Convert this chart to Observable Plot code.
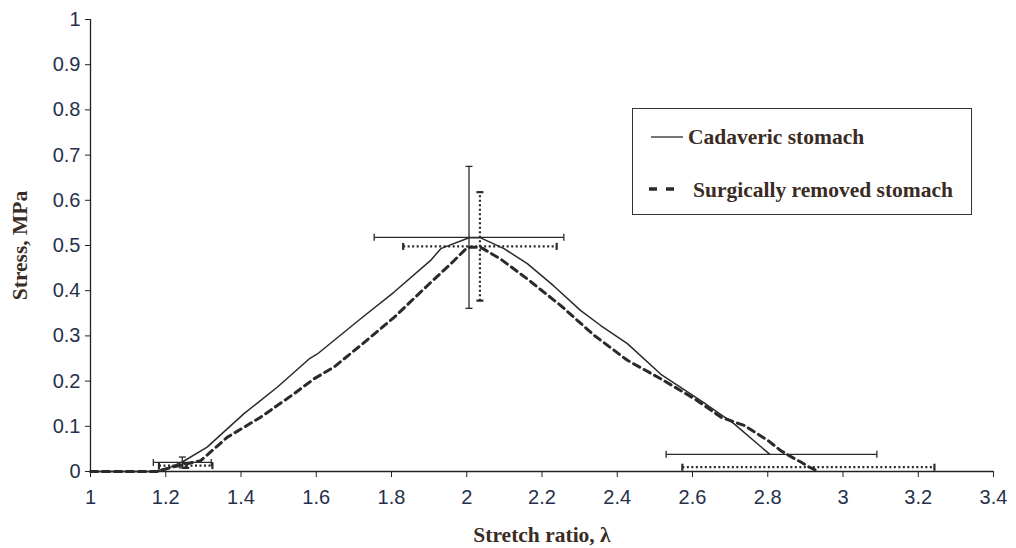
<!DOCTYPE html>
<html>
<head>
<meta charset="utf-8">
<script src="https://cdn.jsdelivr.net/npm/d3@7"></script>
<script src="https://cdn.jsdelivr.net/npm/@observablehq/plot@0.6"></script>
<style>
  body { margin: 0; background: #fff; }
  #wrap { position: relative; width: 1016px; height: 548px; }
  #legend { position: absolute; left: 632px; top: 108px; width: 338px; height: 105px; border: 1.3px solid #333; background: #fff; }
  .lt { position: absolute; font-family: "Liberation Serif", "DejaVu Serif", serif; font-weight: bold; font-size: 21.5px; color: #3a2c24; white-space: nowrap; line-height: 1; }
  g[aria-label="x-axis tick label"] text, g[aria-label="y-axis tick label"] text { font-size: 20px; }
</style>
</head>
<body>
<div id="wrap"></div>
<script>
// Tick values
const xTicks = [1, 1.2, 1.4, 1.6, 1.8, 2, 2.2, 2.4, 2.6, 2.8, 3, 3.2, 3.4];
const yTicks = [0, 0.1, 0.2, 0.3, 0.4, 0.5, 0.6, 0.7, 0.8, 0.9, 1];

// Cadaveric stomach (solid)
const cadX = [1.0, 1.17, 1.213, 1.244, 1.31, 1.408, 1.497, 1.581, 1.603, 1.718, 1.807, 1.904, 1.931, 2.006, 2.037, 2.099, 2.161, 2.232, 2.303, 2.356, 2.427, 2.516, 2.622, 2.71, 2.804];
const cadY = [0.0, 0.0, 0.01, 0.021, 0.054, 0.128, 0.187, 0.249, 0.26, 0.338, 0.397, 0.467, 0.493, 0.517, 0.517, 0.493, 0.46, 0.41, 0.356, 0.323, 0.283, 0.215, 0.157, 0.106, 0.039];

// Surgically removed stomach (dashed)
const surX = [1.0, 1.177, 1.22, 1.293, 1.364, 1.452, 1.541, 1.594, 1.647, 1.718, 1.807, 1.895, 1.957, 2.002, 2.037, 2.09, 2.161, 2.25, 2.339, 2.427, 2.516, 2.605, 2.676, 2.737, 2.8, 2.835, 2.857, 2.888, 2.91, 2.932];
const surY = [0.0, 0.0, 0.01, 0.024, 0.076, 0.12, 0.172, 0.205, 0.231, 0.279, 0.341, 0.411, 0.459, 0.496, 0.496, 0.47, 0.426, 0.367, 0.301, 0.246, 0.205, 0.161, 0.12, 0.102, 0.069, 0.046, 0.035, 0.021, 0.01, 0.001];

// Error bars: cadaveric
const cadErrX = [1.244, 2.006, 2.81];
const cadErrY = [0.02, 0.518, 0.038];
const cadErrDx = [0.077, 0.252, 0.28];
const cadErrDy = [0.012, 0.157, 0];

// Error bars: surgically removed
const surErrX = [1.253, 2.035, 2.908];
const surErrY = [0.013, 0.498, 0.0095];
const surErrDx = [0.071, 0.204, 0.335];
const surErrDy = [0.005, 0.12, 0];

const cad = cadX.map((x, i) => ({x, y: cadY[i]}));
const sur = surX.map((x, i) => ({x, y: surY[i]}));
const mkErr = (X, Y, DX, DY) => X.map((x, i) => ({x, y: Y[i], dx: DX[i], dy: DY[i]}));
const cadErr = mkErr(cadErrX, cadErrY, cadErrDx, cadErrDy);
const surErr = mkErr(surErrX, surErrY, surErrDx, surErrDy);

const vCap = {draw(ctx, size) { const h = Math.sqrt(size / Math.PI); ctx.moveTo(0, -h); ctx.lineTo(0, h); }};
const hCap = {draw(ctx, size) { const h = Math.sqrt(size / Math.PI); ctx.moveTo(-h, 0); ctx.lineTo(h, 0); }};

function errMarks(data, opts) {
  const withY = data.filter(d => d.dy > 0);
  const ends = data.flatMap(d => [{x: d.x - d.dx, y: d.y}, {x: d.x + d.dx, y: d.y}]);
  const vends = withY.flatMap(d => [{x: d.x, y: d.y - d.dy}, {x: d.x, y: d.y + d.dy}]);
  return [
    Plot.link(data, {x1: d => d.x - d.dx, x2: d => d.x + d.dx, y1: "y", y2: "y", ...opts}),
    Plot.link(withY, {x1: "x", x2: "x", y1: d => d.y - d.dy, y2: d => d.y + d.dy, ...opts}),
    Plot.dot(ends, {x: "x", y: "y", symbol: vCap, r: 3.5, fill: "none", stroke: opts.stroke, strokeWidth: opts.strokeWidth}),
    Plot.dot(vends, {x: "x", y: "y", symbol: hCap, r: 3.5, fill: "none", stroke: opts.stroke, strokeWidth: opts.strokeWidth})
  ];
}

const chart = Plot.plot({
  width: 1016,
  height: 548,
  marginLeft: 90,
  marginRight: 23,
  marginTop: 19,
  marginBottom: 77,
  style: {fontFamily: "'Liberation Sans', Arial, sans-serif", fontSize: "20px", background: "#fff"},
  x: {domain: [1, 3.4]},
  y: {domain: [0, 1]},
  marks: [
    Plot.axisX({ticks: xTicks, tickSize: 6, tickPadding: 12, label: null, fontSize: 20, color: "#26304a", stroke: "#222", tickFormat: d => String(d)}),
    Plot.axisY({ticks: yTicks, tickSize: 5, tickPadding: 5, label: null, fontSize: 20, color: "#26304a", stroke: "#222", tickFormat: d => String(d)}),
    Plot.ruleX([1], {stroke: "#222", strokeWidth: 1.3}),
    Plot.ruleY([0], {stroke: "#222", strokeWidth: 1.3}),
    Plot.line(sur, {x: "x", y: "y", stroke: "#2a2a2a", strokeWidth: 3, strokeDasharray: "7,5"}),
    Plot.line(cad, {x: "x", y: "y", stroke: "#2a2a2a", strokeWidth: 1.5}),
    ...errMarks(cadErr, {stroke: "#2a2a2a", strokeWidth: 1.3}),
    ...errMarks(surErr, {stroke: "#2a2a2a", strokeWidth: 2.2, strokeDasharray: "2,2.5"}),
    Plot.text(["Stretch ratio, λ"], {frameAnchor: "bottom", dy: 70, fontFamily: "'Liberation Serif', serif", fontWeight: "bold", fontSize: 21.5, fill: "#3a2c24"}),
    Plot.text(["Stress, MPa"], {frameAnchor: "left", dx: -70, rotate: -90, textAnchor: "middle", fontFamily: "'Liberation Serif', serif", fontWeight: "bold", fontSize: 21.5, fill: "#3a2c24"})
  ]
});

const wrap = document.getElementById("wrap");
wrap.appendChild(chart);
d3.select(chart).selectAll('g[aria-label$="tick label"]').attr("font-size", 20).style("font-size", "20px");

const legend = document.createElement("div");
legend.id = "legend";
legend.innerHTML = `
  <svg width="338" height="105" style="position:absolute;left:0;top:0">
    <line x1="18" x2="50" y1="28" y2="28" stroke="#2a2a2a" stroke-width="1.3"/>
    <line x1="16" x2="48" y1="80" y2="80" stroke="#2a2a2a" stroke-width="3.5" stroke-dasharray="8,9"/>
  </svg>
  <div class="lt" style="left:55px;top:18px">Cadaveric stomach</div>
  <div class="lt" style="left:60px;top:71px">Surgically removed stomach</div>`;
wrap.appendChild(legend);
</script>
</body>
</html>
